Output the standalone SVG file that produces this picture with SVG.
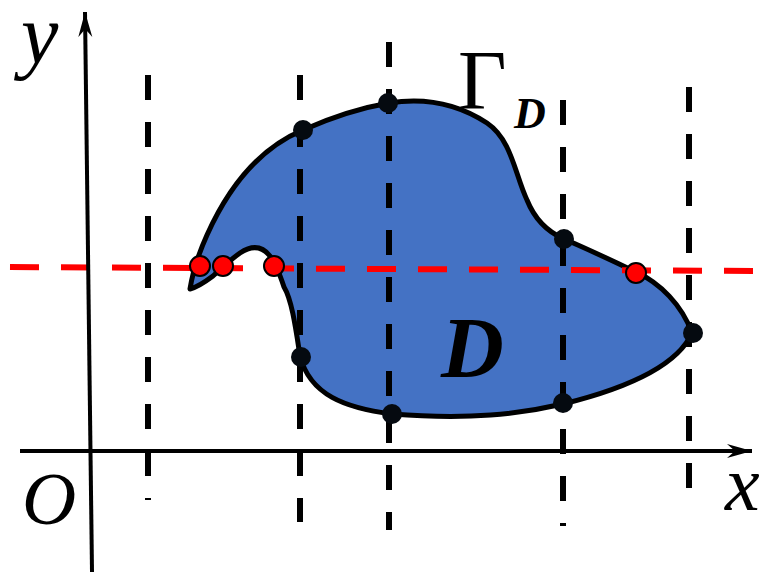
<svg xmlns="http://www.w3.org/2000/svg" width="762" height="572" viewBox="0 0 762 572">
<style>
.vd{stroke:#000;stroke-width:6;stroke-dasharray:25 22;fill:none}
.rd{stroke:#f00;stroke-width:6;stroke-dasharray:29 22;fill:none}
.ax{stroke:#000;stroke-width:4;fill:none}
.bd{fill:#050a10;stroke:none}
.rdot{fill:#f00;stroke:#000;stroke-width:2}
.lbl{font-family:"Liberation Serif",serif;font-style:italic;fill:#000}
</style>
<defs>
<marker id="arr" markerUnits="userSpaceOnUse" markerWidth="30" markerHeight="20" refX="25" refY="10" orient="auto" viewBox="0 0 30 20">
<path d="M0,3 L25,10 L0,17 L8,10 Z" fill="#000"/>
</marker>
</defs>
<g id="region">
<path d="M190,289 C193,270 198,255 207,235 C225,195 255,150 303,130 C330,118 360,108 389,103 C420,98 455,102 487,123 C512,140 515,175 527,200 C535,220 548,232 564,239 C590,250 615,262 636,272 C660,283 682,305 692,333 C680,360 640,385 563,404 C520,414 470,420 392,414 C345,408 310,395 300,356 C296,330 292,300 284,287 C280,275 275,262 270,256 C262,246 252,245 240,253 C230,260 222,268 213,276 C205,282 198,287 190,289 Z" fill="#4472c4" stroke="#000" stroke-width="5" stroke-linejoin="round"/>
</g>
<g id="connectors">
<line class="vd" x1="148" y1="75" x2="148" y2="500"/>
<line class="vd" x1="300" y1="75" x2="300" y2="522"/>
<line class="vd" x1="389" y1="42" x2="389" y2="530"/>
<line class="vd" x1="563" y1="100" x2="563" y2="526"/>
<line class="vd" x1="689" y1="87" x2="689" y2="510"/>
<line class="rd" x1="10" y1="267" x2="762" y2="271"/>
<line class="ax" x1="20" y1="451" x2="752" y2="451" marker-end="url(#arr)"/>
<line class="ax" x1="92" y1="572" x2="85" y2="12" marker-end="url(#arr)"/>
</g>
<g id="points">
<circle class="bd" cx="303" cy="130" r="10"/>
<circle class="bd" cx="388" cy="103" r="10"/>
<circle class="bd" cx="564" cy="239" r="10"/>
<circle class="bd" cx="693" cy="333" r="10"/>
<circle class="bd" cx="563" cy="403" r="10"/>
<circle class="bd" cx="392" cy="414" r="10"/>
<circle class="bd" cx="301" cy="357" r="10"/>
<circle class="rdot" cx="200" cy="266" r="10"/>
<circle class="rdot" cx="223" cy="266" r="10"/>
<circle class="rdot" cx="274" cy="266" r="10"/>
<circle class="rdot" cx="636" cy="273" r="10"/>
</g>
<g id="labels">
<text class="lbl" x="21" y="63" font-size="84">y</text>
<text class="lbl" x="22" y="524" font-size="75">O</text>
<text class="lbl" x="725" y="510" font-size="78">x</text>
<text x="458" y="109" font-family="Liberation Serif,serif" font-size="84" fill="#000">Γ</text>
<text class="lbl" x="514" y="128" font-size="44" font-weight="bold">D</text>
<text class="lbl" x="441" y="377" font-size="87" font-weight="bold">D</text>
</g>
</svg>
